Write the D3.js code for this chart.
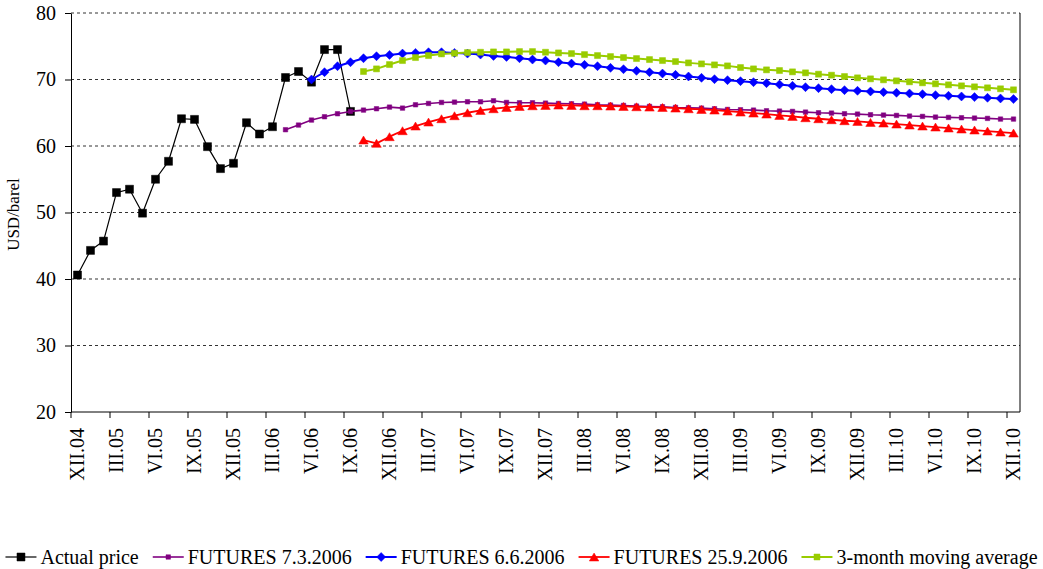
<!DOCTYPE html>
<html>
<head>
<meta charset="utf-8">
<script src="https://cdn.jsdelivr.net/npm/d3@7"></script>
<style>
  body { margin: 0; background: #fff; }
  svg { display: block; }
  text { font-family: "Liberation Serif", "Times New Roman", serif; fill: #000; }
</style>
</head>
<body>
<svg id="chart" width="1043" height="569"></svg>
<script>
// Monthly categories, December 2004 to December 2010
const months = [
  "XII.04",
  "I.05","II.05","III.05","IV.05","V.05","VI.05","VII.05","VIII.05","IX.05","X.05","XI.05","XII.05",
  "I.06","II.06","III.06","IV.06","V.06","VI.06","VII.06","VIII.06","IX.06","X.06","XI.06","XII.06",
  "I.07","II.07","III.07","IV.07","V.07","VI.07","VII.07","VIII.07","IX.07","X.07","XI.07","XII.07",
  "I.08","II.08","III.08","IV.08","V.08","VI.08","VII.08","VIII.08","IX.08","X.08","XI.08","XII.08",
  "I.09","II.09","III.09","IV.09","V.09","VI.09","VII.09","VIII.09","IX.09","X.09","XI.09","XII.09",
  "I.10","II.10","III.10","IV.10","V.10","VI.10","VII.10","VIII.10","IX.10","X.10","XI.10","XII.10"
];

// Labelled quarter months on the category axis
const tickLabels = [
  "XII.04","III.05","VI.05","IX.05","XII.05","III.06","VI.06","IX.06","XII.06",
  "III.07","VI.07","IX.07","XII.07","III.08","VI.08","IX.08","XII.08",
  "III.09","VI.09","IX.09","XII.09","III.10","VI.10","IX.10","XII.10"
];

const yTicks = [20, 30, 40, 50, 60, 70, 80];

// Actual monthly price, USD/barrel, from XII.04
const actualStart = "XII.04";
const actualPrice = [40.6, 44.3, 45.7, 53.0, 53.5, 49.9, 55.0, 57.7, 64.1, 64.0, 59.9, 56.6,
  57.4, 63.5, 61.8, 62.9, 70.3, 71.2, 69.6, 74.5, 74.5, 65.2];

// Futures curve quoted 7.3.2006, from IV.06
const futuresMarStart = "IV.06";
const futuresMar = [62.45, 63.15, 63.9, 64.4, 64.85, 65.2, 65.4, 65.6, 65.85, 65.7, 66.2, 66.4,
  66.55, 66.6, 66.65, 66.65, 66.8, 66.55, 66.5, 66.5, 66.45, 66.4, 66.35, 66.3,
  66.2, 66.15, 66.1, 66.0, 65.95, 65.9, 65.8, 65.75, 65.7, 65.6, 65.5, 65.45,
  65.4, 65.3, 65.25, 65.2, 65.1, 65.0, 64.95, 64.85, 64.8, 64.7, 64.65, 64.6,
  64.5, 64.45, 64.35, 64.3, 64.25, 64.2, 64.15, 64.05, 64.05];

// Futures curve quoted 6.6.2006, from VI.06
const futuresJunStart = "VI.06";
const futuresJun = [70.0, 71.1, 72.0, 72.6, 73.2, 73.5, 73.7, 73.9, 74.0, 74.1, 74.1, 74.0,
  73.9, 73.75, 73.55, 73.4, 73.2, 73.0, 72.85, 72.6, 72.4, 72.2, 72.0, 71.75,
  71.55, 71.3, 71.1, 70.9, 70.7, 70.45, 70.25, 70.05, 69.9, 69.75, 69.6, 69.45,
  69.25, 69.05, 68.85, 68.7, 68.55, 68.4, 68.3, 68.2, 68.1, 68.0, 67.9, 67.8,
  67.65, 67.55, 67.45, 67.35, 67.25, 67.15, 67.05];

// Futures curve quoted 25.9.2006, from X.06
const futuresSepStart = "X.06";
const futuresSep = [60.9, 60.4, 61.4, 62.3, 63.0, 63.6, 64.1, 64.55, 65.0, 65.35, 65.6, 65.8,
  65.95, 66.05, 66.1, 66.15, 66.1, 66.05, 66.05, 66.0, 65.95, 65.9, 65.85, 65.8,
  65.7, 65.6, 65.5, 65.4, 65.25, 65.1, 64.95, 64.8, 64.6, 64.45, 64.25, 64.1,
  63.95, 63.8, 63.7, 63.55, 63.45, 63.3, 63.15, 63.0, 62.85, 62.7, 62.55, 62.4,
  62.25, 62.1, 61.95];

// 3-month moving average, from X.06
const movingAvgStart = "X.06";
const movingAvg = [71.2, 71.6, 72.25, 72.85, 73.3, 73.6, 73.85, 73.95, 74.05, 74.1, 74.15, 74.15,
  74.2, 74.2, 74.1, 74.0, 73.9, 73.75, 73.6, 73.45, 73.3, 73.15, 73.0, 72.85,
  72.7, 72.5, 72.35, 72.2, 72.05, 71.8, 71.6, 71.45, 71.35, 71.15, 71.0, 70.8,
  70.65, 70.45, 70.25, 70.1, 69.95, 69.8, 69.65, 69.5, 69.35, 69.2, 69.05, 68.9,
  68.75, 68.6, 68.45];

const seriesNames = ["Actual price", "FUTURES 7.3.2006", "FUTURES 6.6.2006",
  "FUTURES 25.9.2006", "3-month moving average"];

(function draw() {
  const svg = d3.select("#chart");
  const plotLeft = 71, plotRight = 1020, plotTop = 13, plotBottom = 412;

  const x = d3.scaleBand().domain(months).range([plotLeft, plotRight]).padding(0);
  const y = d3.scaleLinear().domain([20, 80]).range([plotBottom, plotTop]);
  const cx = m => x(m) + x.bandwidth() / 2;

  // Dashed horizontal gridlines
  svg.append("g")
    .selectAll("line")
    .data(yTicks.filter(v => v > 20))
    .join("line")
    .attr("x1", plotLeft).attr("x2", plotRight)
    .attr("y1", d => y(d)).attr("y2", d => y(d))
    .attr("stroke", "#333")
    .attr("stroke-width", 1)
    .attr("stroke-dasharray", "3,3");

  // Right edge of the plot area
  svg.append("line")
    .attr("x1", plotRight).attr("x2", plotRight)
    .attr("y1", plotTop).attr("y2", plotBottom)
    .attr("stroke", "#000");

  // Y axis
  const yAxis = svg.append("g")
    .attr("transform", `translate(${plotLeft},0)`)
    .call(d3.axisLeft(y).tickValues(yTicks).tickSize(6).tickPadding(9).tickSizeOuter(0));
  yAxis.select(".domain").attr("stroke", "#000");
  yAxis.selectAll("text").style("font-size", "20px");

  // X axis: labels centred on their month, tick marks on month boundaries
  const xAxis = svg.append("g")
    .attr("transform", `translate(0,${plotBottom})`)
    .call(d3.axisBottom(x).tickValues(tickLabels).tickSize(0).tickSizeOuter(0));
  xAxis.select(".domain").remove();
  xAxis.selectAll("text")
    .style("font-size", "20px")
    .attr("transform", "rotate(-90)")
    .attr("text-anchor", "end")
    .attr("x", -16)
    .attr("y", -1)
    .attr("dy", "0.35em");

  svg.append("line")
    .attr("x1", plotLeft).attr("x2", plotRight)
    .attr("y1", plotBottom).attr("y2", plotBottom)
    .attr("stroke", "#000");

  svg.append("g")
    .selectAll("line")
    .data(tickLabels)
    .join("line")
    .attr("x1", d => x(d)).attr("x2", d => x(d))
    .attr("y1", plotBottom).attr("y2", plotBottom + 6)
    .attr("stroke", "#000");

  // Y axis title
  svg.append("text")
    .attr("transform", `translate(13,${(plotTop + plotBottom) / 2 + 2}) rotate(-90)`)
    .attr("text-anchor", "middle")
    .attr("dy", "0.35em")
    .style("font-size", "17px")
    .text("USD/barel");

  // Marker shapes
  const squarePath = s => `M${-s / 2},${-s / 2}h${s}v${s}h${-s}Z`;
  const diamondPath = r => `M0,${-r}L${r},0L0,${r}L${-r},0Z`;
  const trianglePath = (w, h) => `M0,${-h / 2}L${w / 2},${h / 2}L${-w / 2},${h / 2}Z`;

  const series = [
    { name: seriesNames[0], start: actualStart, values: actualPrice, color: "#000000",
      width: 1.2, marker: squarePath(8) },
    { name: seriesNames[1], start: futuresMarStart, values: futuresMar, color: "#800080",
      width: 1.6, marker: squarePath(4.5) },
    { name: seriesNames[2], start: futuresJunStart, values: futuresJun, color: "#0000FF",
      width: 2, marker: diamondPath(4.5) },
    { name: seriesNames[3], start: futuresSepStart, values: futuresSep, color: "#FF0000",
      width: 1.8, marker: trianglePath(9.5, 8) },
    { name: seriesNames[4], start: movingAvgStart, values: movingAvg, color: "#99CC00",
      width: 2, marker: squarePath(6) }
  ];

  const line = d3.line().x(d => cx(d.m)).y(d => y(d.v));

  series.forEach(s => {
    const i0 = months.indexOf(s.start);
    const pts = s.values.map((v, i) => ({ m: months[i0 + i], v }));
    const g = svg.append("g");
    g.append("path")
      .datum(pts)
      .attr("d", line)
      .attr("fill", "none")
      .attr("stroke", s.color)
      .attr("stroke-width", s.width)
      .attr("stroke-linejoin", "round");
    g.selectAll("path.mk")
      .data(pts)
      .join("path")
      .attr("class", "mk")
      .attr("d", s.marker)
      .attr("transform", d => `translate(${cx(d.m)},${y(d.v)})`)
      .attr("fill", s.color)
      .attr("stroke", s.color)
      .attr("stroke-width", 0.5);
  });

  // Legend along the bottom
  const legend = svg.append("g");
  const sampleLen = 31, textGap = 4, itemGap = 14;
  let cursor = 0;
  series.forEach(s => {
    const g = legend.append("g");
    g.append("line")
      .attr("x1", 0).attr("x2", sampleLen)
      .attr("y1", 0).attr("y2", 0)
      .attr("stroke", s.color)
      .attr("stroke-width", s.width);
    g.append("path")
      .attr("d", s.marker)
      .attr("transform", `translate(${sampleLen / 2},0)`)
      .attr("fill", s.color)
      .attr("stroke", s.color)
      .attr("stroke-width", 0.5);
    const t = g.append("text")
      .attr("x", sampleLen + textGap)
      .attr("y", 0)
      .attr("dy", "0.33em")
      .style("font-size", "20px")
      .text(s.name);
    const w = sampleLen + textGap + t.node().getComputedTextLength();
    g.attr("transform", `translate(${cursor},0)`);
    cursor += w + itemGap;
  });
  const total = cursor - itemGap;
  legend.attr("transform", `translate(${(1043 - total) / 2},557)`);
})();
</script>
</body>
</html>
